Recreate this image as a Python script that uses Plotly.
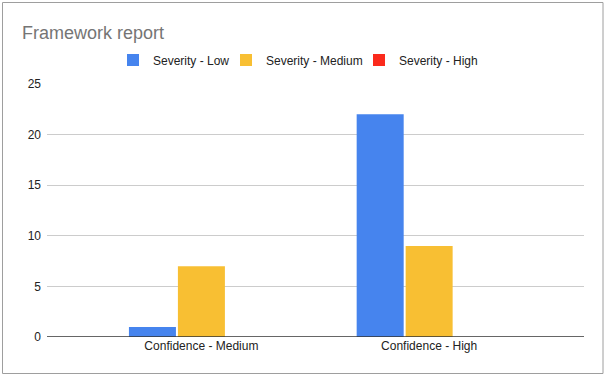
import plotly.graph_objects as go

categories = ["Confidence - Medium", "Confidence - High"]
series_names = ["Severity - Low", "Severity - Medium", "Severity - High"]
severity_low = [1, 22]
severity_medium = [7, 9]
severity_high = [0, 0]
colors = ["#4684ee", "#f8bf33", "#fb2a1c"]
y_ticks = [0, 5, 10, 15, 20, 25]

legend_ids = ["legend", "legend2", "legend3"]
legend_left_px = [113, 226, 359]

fig = go.Figure()
for name, vals, col, lid in zip(series_names, [severity_low, severity_medium, severity_high], colors, legend_ids):
    fig.add_trace(go.Bar(name=name, x=categories, y=vals, legend=lid,
                         marker=dict(color=col, line=dict(width=0))))

legend_common = dict(orientation="h", xref="container", xanchor="left",
                     yref="container", y=1-60/377, yanchor="middle",
                     font=dict(size=12, color="#222222"), bgcolor="rgba(0,0,0,0)")

fig.update_layout(
    width=606, height=377,
    margin=dict(l=47, r=22, t=84, b=40, pad=0, autoexpand=False),
    paper_bgcolor="white", plot_bgcolor="white",
    font=dict(family="Liberation Sans, Arial, sans-serif", size=12, color="#222222"),
    title=dict(text="Framework report", xref="container", x=22/606, xanchor="left",
               yref="container", y=1-33/377, yanchor="middle",
               font=dict(size=18, color="#757575")),
    barmode="group", bargap=0.355, bargroupgap=0.04,
    showlegend=True,
    legend=dict(x=legend_left_px[0]/606, **legend_common),
    legend2=dict(x=legend_left_px[1]/606, **legend_common),
    legend3=dict(x=legend_left_px[2]/606, **legend_common),
    xaxis=dict(type="category", range=[-0.678, 1.68], showgrid=False, ticks="",
               showline=False, zeroline=False, tickfont=dict(size=12, color="#222222")),
    yaxis=dict(range=[0, 25], tickvals=y_ticks, showgrid=True, gridcolor="#cccccc",
               gridwidth=1, zeroline=False, showline=False, ticks="", ticklabelstandoff=5,
               tickfont=dict(size=12, color="#222222")),
    shapes=[
        dict(type="line", xref="paper", yref="y", x0=0, x1=1, y0=0, y1=0,
             line=dict(color="#333333", width=1.5), layer="above"),
        dict(type="rect", xref="paper", yref="paper",
             x0=(2.5-47)/537, x1=(603-47)/537, y0=-(373.5-337)/253, y1=(337-2.5)/253,
             line=dict(color="#9e9e9e", width=1)),
    ],
)

fig.write_html("out.html", config={"displayModeBar": False},
               post_script="document.body.style.margin='0';document.body.style.overflow='hidden';")
